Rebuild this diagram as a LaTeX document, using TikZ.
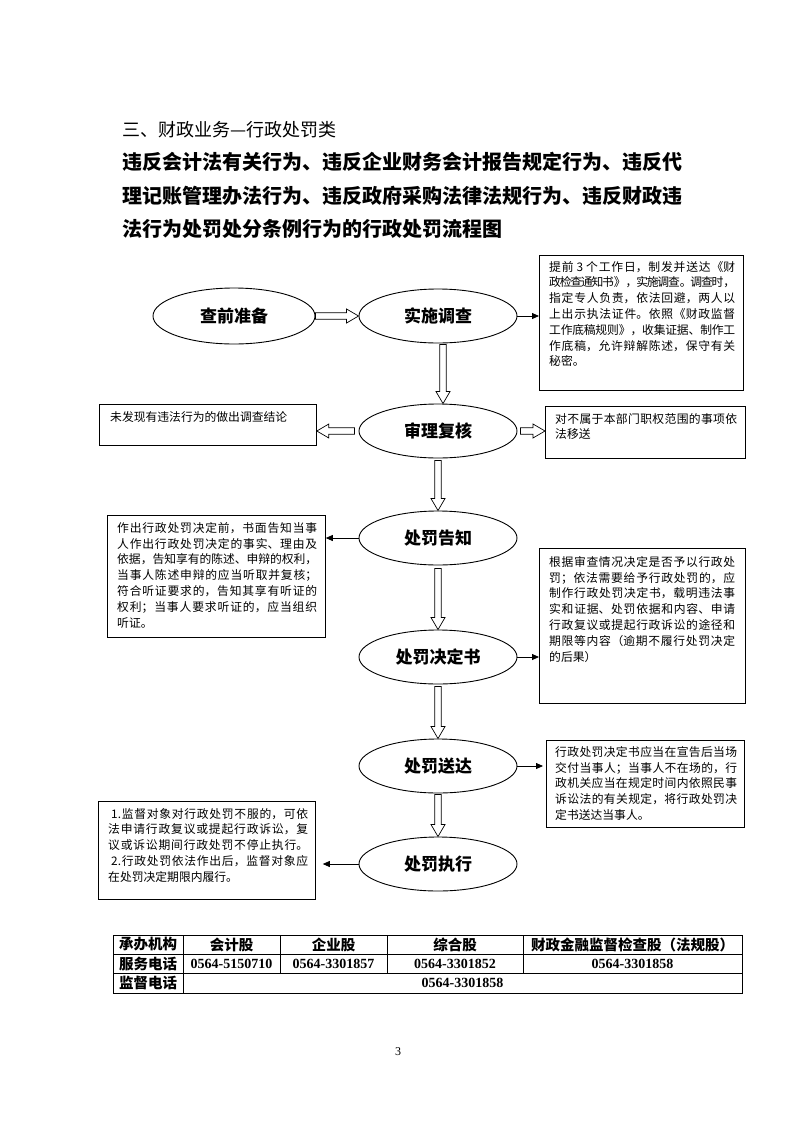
\documentclass[tikz,border=0pt]{standalone}
\usepackage{fontspec}
\setmainfont{Noto Sans CJK SC}
\newfontfamily\numfont{Liberation Serif}
\usetikzlibrary{arrows.meta, positioning, shapes.geometric, calc}
\XeTeXlinebreaklocale "zh"
\XeTeXlinebreakskip=0pt plus 3pt minus 1.5pt

\tikzset{
  heading/.style={anchor=west, inner sep=0pt, font=\fontsize{20}{20}\bfseries},
  stage/.style={draw, ellipse, line width=0.9pt, minimum width=158pt, minimum height=54pt,
    inner sep=0pt, font=\fontsize{17}{17}\bfseries},
  notebox/.style={draw, line width=0.8pt, anchor=north west, inner sep=0pt},
  notetext/.style={anchor=north west, inner sep=0pt, align=justify, text width=#1,
    font=\fontsize{11.8}{15.8}\selectfont},
  hollowline/.style={draw, fill=white, line width=0.7pt, line join=miter},
  pointer/.style={line width=0.8pt, -{Triangle[length=7pt, width=6pt]}},
  cell/.style={inner sep=0pt, font=\fontsize{14.5}{14.5}\bfseries},
  phone/.style={inner sep=0pt, font=\numfont\bfseries\fontsize{14}{14}\selectfont},
}

% hollow block arrow from #1 to #2
\newcommand\hollow[2]{%
  \coordinate (hb) at ($(#2)!12pt!(#1)$);
  \path[hollowline] ($(#1)!3.3pt!90:(#2)$) -- ($(hb)!3.3pt!90:(#2)$)
    -- ($(hb)!7pt!90:(#2)$) -- (#2) -- ($(hb)!7pt!-90:(#2)$)
    -- ($(hb)!3.3pt!-90:(#2)$) -- ($(#1)!3.3pt!-90:(#2)$) -- cycle;}

\begin{document}
\begin{tikzpicture}[x=1pt, y=-1pt]
  \useasboundingbox (0,0) rectangle (793,1122);
  % Heading
  \node[anchor=west, inner sep=0pt, font=\fontsize{18}{18}\selectfont] (sect) at (122,130) {三、财政业务—行政处罚类};
  \node[heading] (head1) at (122,162) {违反会计法有关行为、违反企业财务会计报告规定行为、违反代};
  \node[heading] (head2) at (122,196) {理记账管理办法行为、违反政府采购法律法规行为、违反财政违};
  \node[heading] (head3) at (122,229) {法行为处罚处分条例行为的行政处罚流程图};

  % Stages
  \node[stage, minimum width=162pt, minimum height=56pt] (prep) at (234,316) {查前准备};
  \node[stage] (exam) at (438,316) {实施调查};
  \node[stage] (review) at (438,431) {审理复核};
  \node[stage] (notice) at (438,538) {处罚告知};
  \node[stage] (decide) at (438,657) {处罚决定书};
  \node[stage] (serve) at (438,766) {处罚送达};
  \node[stage] (enforce) at (438,864) {处罚执行};

  % Notes
  \node[notebox, minimum width=204pt, minimum height=135pt] (b1) at (539,255) {};
  \node[notetext=186pt] (t1) at ([shift={(10pt,-6pt)}]b1.north west)
    {提前 3 个工作日，制发并送达《财\linebreak
     政检查通知书》，实施调查。调查时，\linebreak
     指定专人负责，依法回避，两人以\linebreak
     上出示执法证件。依照《财政监督\linebreak
     工作底稿规则》，收集证据、制作工\linebreak
     作底稿，允许辩解陈述，保守有关\linebreak
     秘密。};

  \node[notebox, minimum width=217pt, minimum height=41pt] (b2l) at (99,404) {};
  \node[notetext=200pt] (t2l) at ([shift={(11pt,-7pt)}]b2l.north west)
    {未发现有违法行为的做出调查结论};

  \node[notebox, minimum width=200pt, minimum height=52pt] (b2r) at (545,406) {};
  \node[notetext=182pt] (t2r) at ([shift={(10pt,-7pt)}]b2r.north west)
    {对不属于本部门职权范围的事项依\linebreak
     法移送};

  \node[notebox, minimum width=218pt, minimum height=122pt] (b3l) at (107,515) {};
  \node[notetext=200pt] (t3l) at ([shift={(10pt,-7pt)}]b3l.north west)
    {作出行政处罚决定前，书面告知当事\linebreak
     人作出行政处罚决定的事实、理由及\linebreak
     依据，告知享有的陈述、申辩的权利，\linebreak
     当事人陈述申辩的应当听取并复核；\linebreak
     符合听证要求的，告知其享有听证的\linebreak
     权利；当事人要求听证的，应当组织\linebreak
     听证。};

  \node[notebox, minimum width=206pt, minimum height=155pt] (b4r) at (539,548) {};
  \node[notetext=186pt] (t4r) at ([shift={(10pt,-8pt)}]b4r.north west)
    {根据审查情况决定是否予以行政处\linebreak
     罚；依法需要给予行政处罚的，应\linebreak
     制作行政处罚决定书，载明违法事\linebreak
     实和证据、处罚依据和内容、申请\linebreak
     行政复议或提起行政诉讼的途径和\linebreak
     期限等内容（逾期不履行处罚决定\linebreak
     的后果）};

  \node[notebox, minimum width=198pt, minimum height=87pt] (b5r) at (546,740) {};
  \node[notetext=182pt] (t5r) at ([shift={(9pt,-6pt)}]b5r.north west)
    {行政处罚决定书应当在宣告后当场\linebreak
     交付当事人；当事人不在场的，行\linebreak
     政机关应当在规定时间内依照民事\linebreak
     诉讼法的有关规定，将行政处罚决\linebreak
     定书送达当事人。};

  \node[notebox, minimum width=217pt, minimum height=98pt] (b6l) at (98,801) {};
  \node[notetext=200pt] (t6l) at ([shift={(10pt,-7pt)}]b6l.north west)
    {\hspace*{3pt}1.监督对象对行政处罚不服的，可依\linebreak
     法申请行政复议或提起行政诉讼，复\linebreak
     议或诉讼期间行政处罚不停止执行。\linebreak
     \hspace*{3pt}2.行政处罚依法作出后，监督对象应\linebreak
     在处罚决定期限内履行。};

  % Flow
  \hollow{prep.east}{exam.west}
  \hollow{[xshift=5pt,yshift=-1pt]exam.south}{[xshift=5pt]review.north}
  \hollow{[xshift=-4pt]review.west}{review.west -| b2l.east}
  \hollow{[xshift=3pt]review.east}{review.east -| b2r.west}
  \hollow{[yshift=-2pt]review.south}{notice.north}
  \hollow{[yshift=-3pt]notice.south}{decide.north}
  \hollow{[yshift=-2pt]decide.south}{serve.north}
  \hollow{[yshift=-1pt]serve.south}{enforce.north}

  \draw[pointer] (exam.east) -- (exam.east -| b1.west);
  \draw[pointer] (notice.west) -- (notice.west -| b3l.east);
  \draw[pointer] (decide.east) -- (decide.east -| b4r.west);
  \draw[pointer] (serve.east) -- ([xshift=-3pt]serve.east -| b5r.west);
  \draw[pointer] (enforce.west) -- ([xshift=7pt]enforce.west -| b6l.east);

  % Contact table
  \draw[line width=0.9pt] (113,935) rectangle (742,993);
  \draw[line width=0.9pt] (113,954) -- (742,954);
  \draw[line width=0.9pt] (113,973) -- (742,973);
  \draw[line width=0.9pt] (183,935) -- (183,993);
  \foreach \x in {280,387,523}
    \draw[line width=0.9pt] (\x,935) -- (\x,973);
  \node[cell] (org) at (148,944.5) {承办机构};
  \node[cell] (acc) at (231.5,944.5) {会计股};
  \node[cell] (ent) at (333.5,944.5) {企业股};
  \node[cell] (gen) at (455,944.5) {综合股};
  \node[cell] (fin) at (632.5,944.5) {财政金融监督检查股（法规股）};
  \node[cell] (svc) at (148,963.5) {服务电话};
  \node[phone] (accno) at (231.5,963.5) {0564-5150710};
  \node[phone] (entno) at (333.5,963.5) {0564-3301857};
  \node[phone] (genno) at (455,963.5) {0564-3301852};
  \node[phone] (finno) at (632.5,963.5) {0564-3301858};
  \node[cell] (sup) at (148,983) {监督电话};
  \node[phone] (supno) at (462.5,983) {0564-3301858};

  \node[font=\numfont\fontsize{12}{12}\selectfont] (page) at (398,1052) {3};
\end{tikzpicture}
\end{document}
